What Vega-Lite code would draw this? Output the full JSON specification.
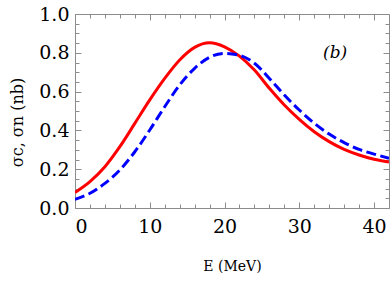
{
  "$schema": "https://vega.github.io/schema/vega-lite/v6.json",
  "autosize": "none",
  "width": 314,
  "height": 194,
  "padding": {"left": 75, "top": 14, "right": 3, "bottom": 76},
  "background": "white",
  "config": {
    "view": {"stroke": "#8c8c8c", "strokeWidth": 1},
    "axis": {
      "grid": false,
      "domain": false,
      "labelFont": "DejaVu Serif",
      "titleFont": "DejaVu Serif",
      "labelFontSize": 19,
      "titleFontSize": 14,
      "titleFontWeight": "normal",
      "labelColor": "black",
      "titleColor": "black",
      "tickColor": "#8c8c8c",
      "tickWidth": 1
    }
  },
  "datasets": {
    "curves": [
      {"E": 0, "v": 0.080, "s": "c"}, {"E": 2, "v": 0.136, "s": "c"}, {"E": 4, "v": 0.213, "s": "c"},
      {"E": 6, "v": 0.316, "s": "c"}, {"E": 8, "v": 0.436, "s": "c"}, {"E": 10, "v": 0.557, "s": "c"},
      {"E": 12, "v": 0.668, "s": "c"}, {"E": 14, "v": 0.763, "s": "c"}, {"E": 16, "v": 0.828, "s": "c"},
      {"E": 18, "v": 0.852, "s": "c"}, {"E": 20, "v": 0.831, "s": "c"}, {"E": 22, "v": 0.783, "s": "c"},
      {"E": 24, "v": 0.711, "s": "c"}, {"E": 26, "v": 0.617, "s": "c"}, {"E": 28, "v": 0.531, "s": "c"},
      {"E": 30, "v": 0.457, "s": "c"}, {"E": 32, "v": 0.393, "s": "c"}, {"E": 34, "v": 0.342, "s": "c"},
      {"E": 36, "v": 0.302, "s": "c"}, {"E": 38, "v": 0.273, "s": "c"}, {"E": 40, "v": 0.251, "s": "c"},
      {"E": 42, "v": 0.237, "s": "c"},
      {"E": 0, "v": 0.045, "s": "n"}, {"E": 2, "v": 0.076, "s": "n"}, {"E": 4, "v": 0.127, "s": "n"},
      {"E": 6, "v": 0.196, "s": "n"}, {"E": 8, "v": 0.290, "s": "n"}, {"E": 10, "v": 0.402, "s": "n"},
      {"E": 12, "v": 0.522, "s": "n"}, {"E": 14, "v": 0.634, "s": "n"}, {"E": 16, "v": 0.720, "s": "n"},
      {"E": 18, "v": 0.777, "s": "n"}, {"E": 20, "v": 0.797, "s": "n"}, {"E": 22, "v": 0.787, "s": "n"},
      {"E": 24, "v": 0.746, "s": "n"}, {"E": 26, "v": 0.668, "s": "n"}, {"E": 28, "v": 0.582, "s": "n"},
      {"E": 30, "v": 0.505, "s": "n"}, {"E": 32, "v": 0.437, "s": "n"}, {"E": 34, "v": 0.381, "s": "n"},
      {"E": 36, "v": 0.337, "s": "n"}, {"E": 38, "v": 0.302, "s": "n"}, {"E": 40, "v": 0.278, "s": "n"},
      {"E": 42, "v": 0.256, "s": "n"}
    ],
    "labels": [{"E": 34.8, "v": 0.80, "label": "(b)"}]
  },
  "data": {"name": "curves"},
  "resolve": {"axis": {"x": "independent", "y": "independent"}},
  "layer": [
    {
      "transform": [{"filter": "datum.s === 'c'"}],
      "mark": {"type": "line", "color": "#ff0000", "strokeWidth": 3, "interpolate": "monotone", "clip": true},
      "encoding": {
        "x": {"field": "E", "type": "quantitative", "scale": {"domain": [0, 42], "nice": false, "zero": false},
          "axis": {"orient": "bottom", "values": [0, 10, 20, 30, 40], "ticks": false, "labelPadding": 9, "title": "E (MeV)", "titleBaseline": "middle", "titleY": 58, "format": "d"}},
        "y": {"field": "v", "type": "quantitative", "scale": {"domain": [0, 1], "nice": false},
          "axis": {"orient": "left", "values": [0, 0.2, 0.4, 0.6, 0.8, 1.0], "ticks": false, "labelPadding": 6, "format": ".1f", "title": "σc, σn (nb)", "titleFontSize": 16, "titleBaseline": "middle", "titleX": -58, "titleY": 108, "titleAngle": -90}}
      }
    },
    {
      "transform": [{"filter": "datum.s === 'n'"}],
      "mark": {"type": "line", "color": "#0000ff", "strokeWidth": 3, "strokeDash": [10, 4.5], "interpolate": "monotone", "clip": true},
      "encoding": {
        "x": {"field": "E", "type": "quantitative",
          "axis": {"orient": "bottom", "values": [0, 10, 20, 30, 40], "labels": false, "tickSize": 6, "offset": -6, "title": null}},
        "y": {"field": "v", "type": "quantitative",
          "axis": {"orient": "left", "values": [0, 0.2, 0.4, 0.6, 0.8, 1.0], "labels": false, "tickSize": 6, "offset": -6, "title": null}}
      }
    },
    {
      "transform": [{"filter": "datum.s === 'n'"}],
      "mark": {"type": "line", "opacity": 0},
      "encoding": {
        "x": {"field": "E", "type": "quantitative",
          "axis": {"orient": "bottom", "values": [2, 4, 6, 8, 12, 14, 16, 18, 22, 24, 26, 28, 32, 34, 36, 38], "labels": false, "tickSize": 4, "offset": -4, "title": null}},
        "y": {"field": "v", "type": "quantitative",
          "axis": {"orient": "left", "values": [0.05, 0.1, 0.15, 0.25, 0.3, 0.35, 0.45, 0.5, 0.55, 0.65, 0.7, 0.75, 0.85, 0.9, 0.95], "labels": false, "tickSize": 4, "offset": -4, "title": null}}
      }
    },
    {
      "transform": [{"filter": "datum.s === 'n'"}],
      "mark": {"type": "line", "opacity": 0},
      "encoding": {
        "x": {"field": "E", "type": "quantitative",
          "axis": {"orient": "top", "values": [0, 10, 20, 30, 40], "labels": false, "tickSize": 6, "offset": -6, "title": null}},
        "y": {"field": "v", "type": "quantitative",
          "axis": {"orient": "right", "values": [0, 0.2, 0.4, 0.6, 0.8, 1.0], "labels": false, "tickSize": 6, "offset": -6, "title": null}}
      }
    },
    {
      "transform": [{"filter": "datum.s === 'n'"}],
      "mark": {"type": "line", "opacity": 0},
      "encoding": {
        "x": {"field": "E", "type": "quantitative",
          "axis": {"orient": "top", "values": [2, 4, 6, 8, 12, 14, 16, 18, 22, 24, 26, 28, 32, 34, 36, 38], "labels": false, "tickSize": 4, "offset": -4, "title": null}},
        "y": {"field": "v", "type": "quantitative",
          "axis": {"orient": "right", "values": [0.05, 0.1, 0.15, 0.25, 0.3, 0.35, 0.45, 0.5, 0.55, 0.65, 0.7, 0.75, 0.85, 0.9, 0.95], "labels": false, "tickSize": 4, "offset": -4, "title": null}}
      }
    },
    {
      "data": {"name": "labels"},
      "mark": {"type": "text", "font": "DejaVu Serif", "fontSize": 17, "fontStyle": "italic", "color": "black", "align": "center", "baseline": "middle"},
      "encoding": {
        "x": {"field": "E", "type": "quantitative", "axis": null},
        "y": {"field": "v", "type": "quantitative", "axis": null},
        "text": {"field": "label"}
      }
    }
  ]
}
